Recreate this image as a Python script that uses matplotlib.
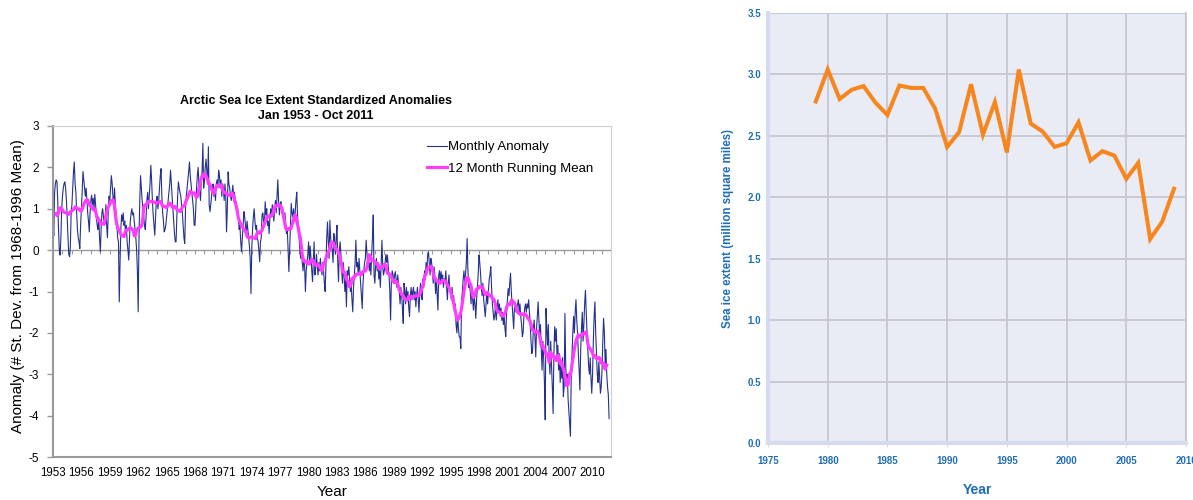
import numpy as np
import pandas as pd
import matplotlib
matplotlib.use('Agg')
import matplotlib.pyplot as plt
from matplotlib.ticker import FormatStrFormatter

# 左图: 北极海冰范围标准化距平 (月值), Jan 1953 - Oct 2011, 每行一年
anom_1950s = [
    [0.6, 0.35, 1.4, 1.6, 1.7, 1.65, 1.2, 0.5, 0.0, -0.12, 0.3, 1.0],
    [1.3, 1.5, 1.6, 1.65, 1.5, 1.2, 0.8, 0.3, -0.1, -0.16, 0.1, 0.9],
    [1.1, 1.5, 1.9, 2.13, 1.6, 1.4, 0.9, 0.5, 0.3, 0.2, 0.04, 0.6],
    [1.0, 1.4, 1.9, 1.7, 1.5, 1.3, 1.5, 1.2, 0.9, 0.7, 0.44, 0.9],
    [1.2, 1.33, 1.1, 1.25, 1.0, 1.35, 1.1, 0.8, 0.6, 0.5, 0.8, 0.3],
    [-0.04, 0.5, 0.9, 1.0, 0.8, 0.6, 0.7, 1.1, 0.6, 0.3, 0.9, 1.3],
    [1.2, 1.5, 1.8, 1.6, 1.3, 1.0, 1.5, 1.1, 0.85, 0.6, 0.3, 0.2],
]
anom_1960s = [
    [-1.25, -0.3, 0.5, 0.85, 0.7, 0.9, 0.6, 0.7, 0.4, 0.6, 0.2, 0.0],
    [-0.24, 0.3, 0.7, 0.9, 1.0, 0.85, 0.9, 0.7, 0.5, 0.3, 0.0, -0.5],
    [-1.49, 0.3, 1.2, 1.8, 1.5, 1.2, 1.0, 0.8, 0.6, 0.5, 0.8, 1.2],
    [1.4, 1.0, 1.3, 1.6, 2.05, 1.7, 1.2, 0.85, 0.6, 0.36, 0.8, 1.2],
    [1.3, 1.0, 1.2, 1.5, 1.8, 1.97, 1.3, 0.9, 0.7, 0.44, 0.5, 0.6],
    [0.8, 1.0, 1.2, 1.4, 1.6, 1.93, 1.6, 1.3, 1.0, 0.7, 0.4, 0.2],
    [0.2, 0.8, 1.3, 1.65, 1.5, 1.4, 1.3, 1.1, 0.9, 0.6, 0.3, 0.16],
    [1.0, 1.3, 1.5, 1.7, 1.9, 2.13, 1.8, 1.6, 1.4, 1.2, 1.0, 0.6],
    [0.6, 1.0, 1.5, 1.8, 2.0, 1.6, 1.4, 1.2, 1.7, 1.9, 2.58, 1.5],
    [1.7, 2.0, 2.2, 1.9, 1.6, 2.5, 1.09, 0.93, 1.1, 1.3, 1.5, 1.6],
]
anom_1970s = [
    [1.3, 1.5, 1.2, 1.6, 1.7, 1.5, 1.93, 1.81, 1.5, 1.7, 1.3, 1.6],
    [1.5, 1.2, 1.6, 1.3, 0.44, 1.0, 1.89, 1.6, 1.5, 1.3, 1.2, 1.4],
    [1.57, 1.3, 1.4, 1.2, 1.17, 0.9, 1.0, 0.8, 0.5, 0.6, 0.2, -0.04],
    [0.3, 0.6, 0.93, 0.8, 0.6, 0.4, 0.7, 0.5, 0.3, 0.1, -0.2, -1.05],
    [0.04, 0.5, 0.8, 1.0, 0.7, 0.5, 0.6, 0.3, 0.2, 0.0, -0.28, 0.2],
    [0.3, 0.85, 0.9, 0.7, 0.6, 1.17, 0.85, 1.0, 0.6, 0.7, 0.4, 0.8],
    [1.0, 0.8, 1.1, 0.9, 0.7, 1.0, 1.2, 0.9, 1.3, 1.7, 1.2, 0.85],
    [1.1, 1.17, 0.9, 1.0, 0.8, 0.7, 0.9, 0.6, 0.4, 0.5, 0.04, -0.52],
    [0.0, 0.6, 1.13, 0.9, 0.8, 1.0, 0.7, 0.9, 1.2, 1.4, 0.85, 0.5],
    [0.3, 0.0, -0.2, 0.1, -0.3, -0.5, -0.2, -0.4, -1.0, -0.5, -0.3, -0.1],
]
anom_1980s = [
    [0.2, -0.3, 0.1, -0.2, -0.5, -0.76, -0.3, 0.2, -0.6, -0.4, -0.1, -0.4],
    [-0.6, -0.3, -0.5, -0.2, -0.44, -0.6, -0.3, -0.5, -0.8, -1.0, -0.4, 0.3],
    [0.68, 0.2, -0.2, 0.72, 0.3, 0.1, 0.0, -0.3, 0.4, 0.2, -0.1, 0.3],
    [0.6, -0.3, -0.76, 0.0, 0.2, -0.1, -0.5, -0.8, -0.3, -0.6, -1.0, -0.7],
    [-1.37, -0.5, -0.6, -0.4, -0.7, -1.0, -0.8, -1.2, -1.49, -0.9, -0.6, -0.3],
    [0.24, -0.4, -0.3, -0.6, -0.2, -0.5, -0.8, -1.1, -1.41, -0.8, -0.5, -0.3],
    [-0.2, 0.24, -0.1, -0.4, -0.2, -0.5, -0.3, -0.6, -0.1, 0.3, 0.85, -0.6],
    [-0.8, -0.4, -0.2, -0.5, -0.3, -0.7, -0.5, -0.9, -0.3, 0.24, -0.4, -0.6],
    [-0.5, -0.3, -0.1, -0.3, -0.12, -0.4, -0.6, -1.0, -1.69, -0.7, -0.5, -0.6],
    [-0.8, -0.6, -0.52, -0.7, -0.9, -0.6, -0.8, -1.0, -1.3, -0.9, -1.1, -1.4],
]
anom_1990s = [
    [-1.77, -0.8, -1.0, -1.3, -0.9, -1.2, -1.0, -1.4, -1.6, -1.1, -0.9, -1.2],
    [-1.0, -0.9, -1.2, -1.0, -1.37, -1.1, -0.9, -1.2, -1.5, -1.0, -0.8, -1.1],
    [-1.2, -0.7, -0.9, -0.5, -0.7, -0.3, -0.5, -0.1, -0.04, -0.3, -0.6, -0.2],
    [-0.3, -0.5, -0.8, -0.4, -0.6, -1.05, -0.7, -1.1, -1.45, -0.6, -0.5, -0.8],
    [-0.52, -0.7, -0.6, -0.9, -0.7, -0.75, -0.5, -0.9, -1.2, -0.8, -0.6, -1.0],
    [-1.0, -1.2, -0.9, -1.3, -1.1, -1.5, -1.3, -1.8, -2.0, -1.6, -1.9, -2.1],
    [-2.1, -2.38, -1.2, -1.0, -0.7, -0.5, -0.8, -0.6, -0.3, 0.28, -0.5, -0.9],
    [-0.8, -1.0, -1.3, -0.9, -1.2, -1.45, -1.1, -1.3, -1.65, -1.2, -0.9, -0.6],
    [-0.12, -0.3, -0.56, -0.9, -1.1, -0.8, -1.2, -1.4, -1.61, -1.3, -1.0, -1.3],
    [-1.0, -0.7, -0.6, -0.4, -0.9, -1.3, -1.5, -1.69, -1.6, -1.3, -1.69, -1.4],
]
anom_2000s = [
    [-1.2, -1.5, -1.3, -1.6, -1.4, -1.7, -1.5, -1.8, -1.6, -1.9, -2.09, -1.5],
    [-1.2, -0.93, -1.1, -0.8, -0.56, -1.0, -1.3, -1.6, -1.9, -1.4, -1.3, -1.5],
    [-1.4, -1.3, -1.2, -1.5, -1.3, -1.6, -1.8, -2.09, -2.0, -1.6, -1.4, -1.3],
    [-1.5, -1.3, -1.4, -1.2, -1.5, -1.8, -2.2, -2.5, -2.4, -1.9, -1.69, -2.1],
    [-2.58, -1.9, -1.6, -1.25, -1.7, -2.1, -1.8, -2.4, -2.9, -2.2, -2.6, -3.2],
    [-4.1, -1.41, -1.9, -2.3, -1.8, -2.6, -3.0, -2.2, -2.8, -3.3, -3.95, -2.5],
    [-1.85, -2.2, -1.9, -2.6, -2.3, -2.9, -2.5, -3.2, -2.8, -3.1, -2.6, -3.54],
    [-3.3, -1.53, -2.8, -3.2, -3.0, -3.6, -3.9, -4.2, -4.5, -3.0, -2.5, -2.0],
    [-1.6, -2.0, -1.5, -1.2, -1.7, -2.0, -2.5, -2.9, -3.38, -2.4, -1.9, -1.5],
    [-2.2, -1.8, -1.3, -0.97, -1.5, -2.0, -2.4, -2.8, -3.0, -2.6, -3.1, -3.46],
]
anom_2010s = [
    [-3.0, -2.2, -1.6, -1.25, -2.0, -2.5, -3.0, -3.2, -2.7, -3.1, -3.46, -3.3],
    [-2.9, -2.2, -1.65, -2.0, -2.74, -2.4, -3.0, -3.3, -3.5, -4.07],
]

# 右图: 海冰范围 (百万平方英里)
extent_years = list(range(1979, 2010))
extent = [2.78, 3.04, 2.80, 2.875, 2.905, 2.77, 2.67, 2.91, 2.89, 2.89,
          2.72, 2.41, 2.53, 2.92, 2.51, 2.775, 2.365, 3.04, 2.60, 2.535,
          2.41, 2.44, 2.61, 2.30, 2.375, 2.34, 2.15, 2.28, 1.66, 1.80, 2.07]

# 整理月度数据
rows = anom_1950s + anom_1960s + anom_1970s + anom_1980s + anom_1990s + anom_2000s + anom_2010s
anom = pd.Series(np.concatenate([np.array(r, dtype=float) for r in rows]))
t = 1953 + np.arange(len(anom)) / 12.0
running = anom.rolling(12, center=True, min_periods=10).mean()

fig = plt.figure(figsize=(11.93, 5.0), dpi=100)
W, H = 1193.0, 500.0

# ---------------- 左图 ----------------
arial = ['Liberation Sans', 'DejaVu Sans']
ax1 = fig.add_axes([53 / W, 43 / H, 558 / W, 331 / H])
ax1.plot(t, anom, color='#25318f', lw=0.8, label='Monthly Anomaly')
ax1.plot(t, running, color='#ff3cff', lw=2.3, label='12 Month Running Mean')
ax1.set_xlim(1953, 2011.95)
ax1.set_ylim(-5, 3)
ax1.set_xticks(range(1953, 2011, 3))
ax1.set_xticklabels([str(y) for y in range(1953, 2011, 3)], family=arial, fontsize=8.3)
ax1.set_yticks(range(-5, 4))
ax1.set_yticklabels([str(v) for v in range(-5, 4)], family=arial, fontsize=8.5)
ax1.tick_params(axis='x', length=0, pad=7)
ax1.tick_params(axis='y', length=4, width=1, color='#9a9a9a', pad=6)
for s in ['left', 'bottom']:
    ax1.spines[s].set_color('#9a9a9a')
    ax1.spines[s].set_linewidth(1.5)
for s in ['top', 'right']:
    ax1.spines[s].set_color('#cfcfcf')
    ax1.spines[s].set_linewidth(0.8)

# 零值轴线 (带年份小刻度)
ax1.axhline(0, color='#9a9a9a', lw=1.0, zorder=1)
sec = ax1.secondary_xaxis(5 / 8)
sec.set_xticks(range(1953, 2012))
sec.tick_params(direction='in', length=3, width=0.8, color='#9a9a9a', labeltop=False, labelbottom=False)
sec.spines['top'].set_visible(False)
sec.spines['bottom'].set_visible(False)

leg = ax1.legend(loc='upper right', bbox_to_anchor=(0.99, 0.99), frameon=False,
                 prop={'family': arial, 'size': 9.5}, handlelength=1.5,
                 handletextpad=0.1, labelspacing=0.7)

fig.text(316 / W, 1 - 101 / H, 'Arctic Sea Ice Extent Standardized Anomalies',
         ha='center', va='center', family=arial, fontsize=9, fontweight='bold')
fig.text(316 / W, 1 - 116 / H, 'Jan 1953 - Oct 2011',
         ha='center', va='center', family=arial, fontsize=9, fontweight='bold')
fig.text(18 / W, 1 - 286 / H, 'Anomaly (# St. Dev. from 1968-1996 Mean)',
         rotation=90, ha='center', va='center', family=arial, fontsize=11)
fig.text(332 / W, 1 - 492 / H, 'Year', ha='center', va='center', family=arial, fontsize=11)

# ---------------- 右图 ----------------
blue = '#1f6db5'
ax2 = fig.add_axes([768 / W, 57 / H, 418 / W, 430 / H])
ax2.set_facecolor('#e9ebf5')
ax2.set_axisbelow(True)
ax2.grid(True, color='#c6c7d0', lw=1.3)
ax2.plot(extent_years, extent, color='#f7861e', lw=2.9, solid_joinstyle='miter')
ax2.set_xlim(1975, 2010)
ax2.set_ylim(0, 3.5)
ax2.set_xticks(range(1975, 2011, 5))
ax2.set_yticks(np.arange(0, 3.51, 0.5))
ax2.yaxis.set_major_formatter(FormatStrFormatter('%.1f'))
for lab in ax2.get_xticklabels() + ax2.get_yticklabels():
    lab.set_family(arial)
    lab.set_fontweight('bold')
    lab.set_fontsize(7)
    lab.set_color(blue)
ax2.tick_params(axis='x', length=3, color='#d6dbef', pad=6)
ax2.tick_params(axis='y', length=0, pad=5)
ax2.spines['top'].set_visible(False)
ax2.spines['right'].set_color('#c6c7d0')
ax2.spines['right'].set_linewidth(1.3)
for s in ['left', 'bottom']:
    ax2.spines[s].set_color('#d6dbef')
    ax2.spines[s].set_linewidth(3)
fig.text(728 / W, 1 - 229 / H, 'Sea ice extent (million square miles)', rotation=90,
         ha='center', va='center', family=arial, fontweight='bold', fontsize=8.3, color=blue)
fig.text(977 / W, 1 - 490 / H, 'Year', ha='center', va='center',
         family=arial, fontweight='bold', fontsize=10, color=blue)

fig.savefig('out.png', dpi=100, facecolor='white')
